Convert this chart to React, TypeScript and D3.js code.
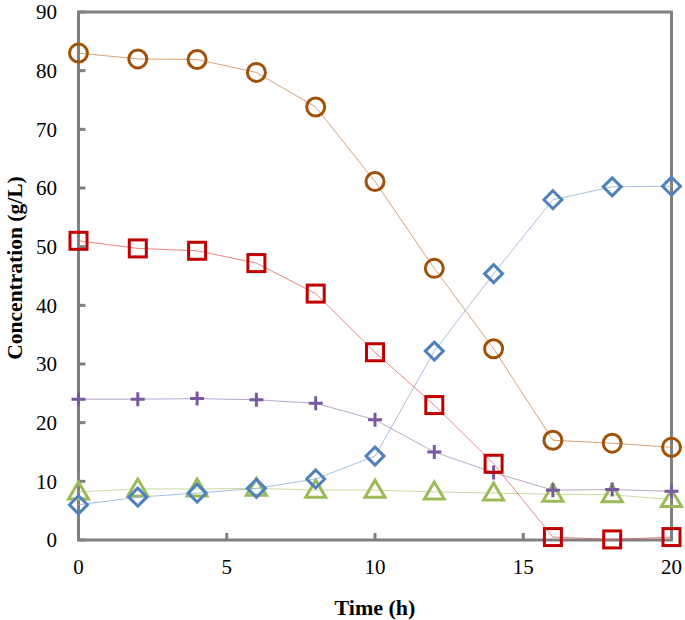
import React from "react";
import * as d3 from "d3";

const times = [0, 2, 4, 6, 8, 10, 12, 14, 16, 18, 20];
const circleSeries = [83, 82, 81.9, 79.7, 73.8, 61.1, 46.3, 32.6, 17, 16.5, 15.8];
const squareSeries = [51, 49.7, 49.3, 47.2, 42, 32, 23, 13, 0.5, 0.1, 0.5];
const plusSeries = [24, 24, 24.1, 23.9, 23.3, 20.5, 15, 11.5, 8.5, 8.6, 8.3];
const triangleSeries = [8.2, 8.7, 8.7, 8.8, 8.5, 8.5, 8.2, 8.0, 7.8, 7.7, 6.9];
const diamondSeries = [6, 7.3, 8, 8.8, 10.4, 14.3, 32.2, 45.4, 58, 60.2, 60.3];
const xTicks = [0, 5, 10, 15, 20];
const yTicks = [0, 10, 20, 30, 40, 50, 60, 70, 80, 90];

const W = 685, H = 620;
const left = 78.5, right = 671.5, top = 12, bottom = 540;
const font = "'Liberation Serif', 'Times New Roman', serif";

export default function App() {
  const x = d3.scaleLinear().domain([0, 20]).range([left, right]);
  const y = d3.scaleLinear().domain([0, 90]).range([bottom, top]);
  const line = d3.line<number>().x((_, i) => x(times[i])).y((d) => y(d));

  const series = [
    { data: triangleSeries, color: "#9BBB59", lineColor: "#B5CC7A", shape: "triangle" },
    { data: plusSeries, color: "#7A5A9E", lineColor: "#9A82B8", shape: "plus" },
    { data: diamondSeries, color: "#4F81BD", lineColor: "#7FA3D3", shape: "diamond" },
    { data: squareSeries, color: "#C00000", lineColor: "#E05050", shape: "square" },
    { data: circleSeries, color: "#A0520A", lineColor: "#C07A40", shape: "circle" },
  ];

  const marker = (shape: string, cx: number, cy: number, color: string, key: number) => {
    const sw = 3;
    if (shape === "circle")
      return <circle key={key} cx={cx} cy={cy} r={9} fill="none" stroke={color} strokeWidth={sw} />;
    if (shape === "square")
      return <rect key={key} x={cx - 8.5} y={cy - 8.5} width={17} height={17} fill="none" stroke={color} strokeWidth={sw} />;
    if (shape === "diamond")
      return <path key={key} d={`M${cx},${cy - 9}L${cx + 9},${cy}L${cx},${cy + 9}L${cx - 9},${cy}Z`} fill="none" stroke={color} strokeWidth={sw} />;
    if (shape === "triangle")
      return <path key={key} d={`M${cx},${cy - 10}L${cx + 10},${cy + 7}L${cx - 10},${cy + 7}Z`} fill="none" stroke={color} strokeWidth={sw} strokeLinejoin="miter" />;
    return <path key={key} d={`M${cx - 7},${cy}H${cx + 7}M${cx},${cy - 7}V${cy + 7}`} stroke={color} strokeWidth={sw} />;
  };

  return (
    <svg width={W} height={H} style={{ position: "absolute", left: 0, top: 0 }}>
      <rect x={0} y={0} width={W} height={H} fill="#fff" />
      {yTicks.map((t) => (
        <line key={"yt" + t} x1={left} x2={left + 7} y1={y(t)} y2={y(t)} stroke="#808080" strokeWidth={3} />
      ))}
      {xTicks.map((t) => (
        <line key={"xt" + t} x1={x(t)} x2={x(t)} y1={bottom} y2={bottom - 7} stroke="#808080" strokeWidth={3} />
      ))}
      <rect x={left} y={top} width={right - left} height={bottom - top} fill="none" stroke="#808080" strokeWidth={3} />
      {yTicks.map((t) => (
        <text key={"yl" + t} x={57} y={y(t)} dy="0.35em" textAnchor="end" fontFamily={font} fontSize={21} fill="#000">
          {t}
        </text>
      ))}
      {xTicks.map((t) => (
        <text key={"xl" + t} x={x(t)} y={567} dy="0.35em" textAnchor="middle" fontFamily={font} fontSize={21} fill="#000">
          {t}
        </text>
      ))}
      <text x={375} y={607} dy="0.35em" textAnchor="middle" fontFamily={font} fontSize={22} fontWeight="bold">
        Time (h)
      </text>
      <text transform={`translate(14,${(top + bottom) / 2 - 8}) rotate(-90)`} dy="0.35em" textAnchor="middle" fontFamily={font} fontSize={21.5} fontWeight="bold">
        Concentration (g/L)
      </text>
      {series.map((s, si) => (
        <g key={si}>
          <path d={line(s.data) || ""} fill="none" stroke={s.lineColor} strokeWidth={0.7} />
          {s.data.map((v, i) => marker(s.shape, x(times[i]), y(v), s.color, i))}
        </g>
      ))}
    </svg>
  );
}
